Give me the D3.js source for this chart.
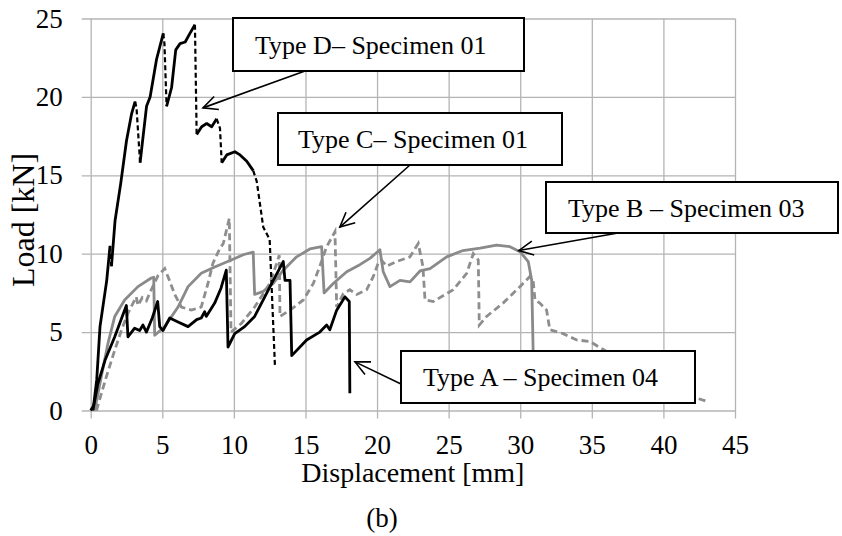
<!DOCTYPE html>
<html>
<head>
<meta charset="utf-8">
<script src="https://cdn.jsdelivr.net/npm/d3@7"></script>
<style>
  body { margin: 0; background: #fff; }
  svg text { font-family: "Liberation Serif", "Times New Roman", serif; fill: #000; }
</style>
</head>
<body>
<svg width="842" height="536"></svg>
<script>
const svg = d3.select('svg');

// displacement [mm], load [kN]
const typeA = [[0.15,0],[0.5,1.7],[1.0,3.2],[1.68,4.7],[2.49,6.7],[2.6,4.7],[3.07,5.25],[3.42,5.1],[3.65,5.45],[3.89,5.0],[4.3,5.9],[4.68,6.95],[4.82,5.35],[5.05,5.1],[5.52,5.9],[6.1,5.65],[6.8,5.35],[7.4,5.8],[7.72,5.9],[7.96,6.3],[8.07,6.0],[8.66,6.85],[9.1,7.8],[9.47,8.95],[9.59,4.05],[10.06,4.9],[10.75,5.35],[11.45,6.0],[12.05,7.05],[12.75,8.3],[13.45,9.5],[13.57,8.3],[13.92,8.3],[14.04,3.5],[15.08,4.5],[16.0,5.0],[16.48,5.45],[16.7,5.15],[17.18,6.4],[17.76,7.25],[18.06,6.95],[18.1,1.1]];

const typeB = [[0.28,0],[0.74,2.15],[1.21,4.3],[1.68,6.0],[2.37,7.05],[3.3,7.9],[4.23,8.45],[4.4,8.5],[4.47,4.8],[5.17,5.35],[6.1,6.6],[6.8,7.9],[7.72,8.75],[8.66,9.15],[9.82,9.6],[10.7,9.95],[11.35,10.1],[11.45,7.4],[12.05,7.6],[12.75,8.1],[13.45,8.95],[14.38,9.8],[15.31,10.3],[16.13,10.45],[16.3,7.5],[16.94,8.1],[17.88,8.85],[18.8,9.3],[19.5,9.7],[20.2,10.25],[20.43,8.85],[20.9,7.9],[21.6,8.3],[22.3,8.2],[23.0,8.9],[23.7,9.05],[24.86,9.8],[26.0,10.2],[27.2,10.35],[28.35,10.55],[29.28,10.45],[29.98,10.13],[30.56,9.5],[30.8,8.3],[30.9,3.9],[30.95,0.8]];

const typeC = [[0.4,0],[1.09,2.15],[1.68,3.85],[2.14,5.1],[2.6,6.2],[3.18,7.25],[3.3,6.7],[3.6,7.2],[3.89,7.0],[4.23,7.7],[4.7,8.6],[5.17,9.05],[5.5,8.3],[5.87,7.4],[6.33,6.6],[7.03,6.4],[7.72,6.6],[8.19,8.1],[8.54,9.4],[9.0,10.3],[9.26,10.65],[9.68,12.25],[9.8,5.0],[10.52,5.55],[11.45,6.6],[12.05,7.45],[12.5,8.1],[13.0,9.4],[13.17,9.9],[13.22,6.0],[13.92,6.4],[14.85,7.05],[15.55,8.1],[16.0,9.2],[16.48,10.45],[17.06,11.4],[17.18,6.6],[17.64,7.45],[18.1,7.7],[18.58,7.4],[19.27,7.7],[19.74,8.55],[20.08,9.4],[20.3,9.6],[20.67,9.2],[21.37,9.5],[22.3,9.8],[22.88,10.65],[23.2,9.2],[23.35,7.05],[23.93,6.95],[25.32,7.7],[26.26,8.75],[26.72,10.0],[27.07,9.6],[27.14,5.45],[27.65,6.0],[28.8,6.85],[29.98,7.9],[30.68,8.55],[30.9,8.3],[31.03,7.05],[31.37,6.85],[31.84,6.4],[32.07,5.15],[33.0,4.9],[33.94,4.5],[34.87,4.4],[35.68,3.95],[37.5,3.0],[39.5,1.8],[41.5,1.0],[42.3,0.8],[43.13,0.55]];

const typeD = [[0,0],[0.2,0.3],[0.42,1.95],[0.65,5.35],[1.12,8.3],[1.35,10.5],[1.45,9.2],[1.7,12.1],[2.1,14.5],[2.5,17.2],[2.85,18.9],[3.1,19.7],[3.2,19.3],[3.45,15.8],[3.6,17],[3.9,19.4],[4.15,20.0],[4.6,22.4],[5.07,24.05],[5.15,23.4],[5.3,19.4],[5.65,20.6],[5.94,23.0],[6.24,23.4],[6.6,23.5],[6.93,24.05],[7.28,24.6],[7.4,17.6],[7.75,18.1],[8.1,18.3],[8.45,18.1],[8.8,18.6],[9.03,18.0],[9.15,15.8],[9.5,16.3],[10.07,16.5],[10.43,16.3],[10.9,15.9],[11.35,15.3],[11.6,14.6],[12.05,11.7],[12.5,10.9],[12.87,2.8]];

const xTicks = [0, 5, 10, 15, 20, 25, 30, 35, 40, 45];
const yTicks = [0, 5, 10, 15, 20, 25];

const labels = ['Type A \u2013 Specimen 04', 'Type B \u2013 Specimen 03', 'Type C\u2013 Specimen 01', 'Type D\u2013 Specimen 01'];
// point each callout arrow touches, in data units
const arrowTips = [[18.46, 3.1], [29.9, 10.2], [17.4, 11.7], [7.84, 19.3]];

const margin = { top: 18.5, left: 90.7, right: 107, bottom: 125.5 };
const innerWidth = 842 - margin.left - margin.right;
const innerHeight = 536 - margin.top - margin.bottom;

const x = d3.scaleLinear().domain([0, 45]).range([0, innerWidth]);
const y = d3.scaleLinear().domain([0, 25]).range([innerHeight, 0]);

const g = svg.append('g')
  .attr('transform', `translate(${margin.left},${margin.top})`);

const gridColor = '#b4b4b4';

//x axis with full height grid
const xAxisG = g.append('g')
  .attr('font-family', 'Liberation Serif').attr('font-size', 27)
  .attr('transform', `translate(0,${innerHeight})`)
  .call(d3.axisBottom(x).tickValues(xTicks).tickSize(-innerHeight).tickPadding(24).tickFormat(d3.format('d')));
xAxisG.attr('font-family', 'Liberation Serif').attr('font-size', 27);
xAxisG.select('.domain').remove();
xAxisG.selectAll('line').attr('stroke', gridColor).attr('stroke-width', 1.3).attr('y1', 8);

const yAxisG = g.append('g')
  .call(d3.axisLeft(y).tickValues(yTicks).tickSize(-innerWidth).tickPadding(28));
yAxisG.attr('font-family', 'Liberation Serif').attr('font-size', 27);
yAxisG.select('.domain').remove();
yAxisG.selectAll('line').attr('stroke', gridColor).attr('stroke-width', 1.3).attr('x1', -9);

const line = d3.line().x(d => x(d[0])).y(d => y(d[1]));

g.append('path').datum(typeC)
  .attr('fill', 'none').attr('stroke', '#8e8e8e').attr('stroke-width', 2.8)
  .attr('stroke-dasharray', '7,4').attr('d', line);

g.append('path').datum(typeB)
  .attr('fill', 'none').attr('stroke', '#8a8a8a').attr('stroke-width', 2.8)
  .attr('stroke-linejoin', 'round').attr('d', line);

g.append('path').datum(typeA)
  .attr('fill', 'none').attr('stroke', '#000').attr('stroke-width', 2.8)
  .attr('stroke-linejoin', 'round').attr('d', line);

//Type D: the sudden load drops show as dashed pieces
const runs = [];
d3.pairs(typeD).forEach(([a, b]) => {
  const dashed = (b[1] - a[1]) / (b[0] - a[0]) < -1.5;
  const last = runs[runs.length - 1];
  if (last && last.dashed === dashed) last.pts.push(b);
  else runs.push({ dashed, pts: [a, b] });
});
g.selectAll('.typeD').data(runs).enter().append('path')
  .attr('class', 'typeD')
  .attr('fill', 'none').attr('stroke', '#000')
  .attr('stroke-width', d => d.dashed ? 2.2 : 2.8)
  .attr('stroke-dasharray', d => d.dashed ? '5,3' : null)
  .attr('stroke-linejoin', 'round')
  .attr('d', d => line(d.pts));

//callouts
const boxes = [
  { x: 401, y: 351, w: 294, h: 52, tx: 423, from: [401, 384] },
  { x: 546, y: 182, w: 292, h: 51, tx: 568, from: [618, 233] },
  { x: 278, y: 113, w: 284, h: 52, tx: 298, from: [410, 165] },
  { x: 233, y: 18, w: 291, h: 53, tx: 255, from: [305, 71] }
];

boxes.forEach((b, i) => {
  const tip = [x(arrowTips[i][0]) + margin.left, y(arrowTips[i][1]) + margin.top];
  const ang = Math.atan2(b.from[1] - tip[1], b.from[0] - tip[0]);
  const head = 16, spread = 0.45;
  svg.append('line')
    .attr('x1', b.from[0]).attr('y1', b.from[1])
    .attr('x2', tip[0]).attr('y2', tip[1])
    .attr('stroke', '#000').attr('stroke-width', 1.6);
  svg.append('path')
    .attr('d', `M${tip[0] + head * Math.cos(ang - spread)},${tip[1] + head * Math.sin(ang - spread)}L${tip[0]},${tip[1]}L${tip[0] + head * Math.cos(ang + spread)},${tip[1] + head * Math.sin(ang + spread)}`)
    .attr('fill', 'none').attr('stroke', '#000').attr('stroke-width', 1.6);
  svg.append('rect')
    .attr('x', b.x).attr('y', b.y).attr('width', b.w).attr('height', b.h)
    .attr('fill', '#fff').attr('stroke', '#000').attr('stroke-width', 2);
  svg.append('text')
    .attr('x', b.tx).attr('y', b.y + b.h / 2 + 9)
    .attr('font-size', 26)
    .text(labels[i]);
});

//axis titles
svg.append('text')
  .attr('x', margin.left + innerWidth / 2).attr('y', 482)
  .attr('text-anchor', 'middle').attr('font-size', 28)
  .text('Displacement [mm]');

svg.append('text')
  .attr('transform', 'translate(34,220) rotate(-90)')
  .attr('text-anchor', 'middle').attr('font-size', 32)
  .text('Load [kN]');

svg.append('text')
  .attr('x', 382).attr('y', 527)
  .attr('text-anchor', 'middle').attr('font-size', 27)
  .text('(b)');
</script>
</body>
</html>
